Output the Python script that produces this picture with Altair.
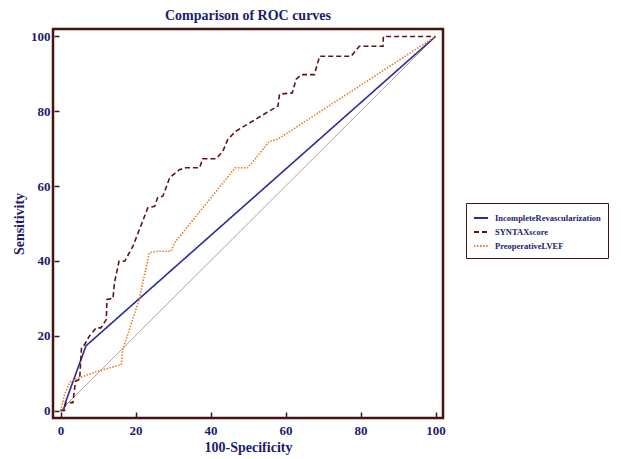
import altair as alt
import pandas as pd

# ---- data ----
series_names = ["IncompleteRevascularization", "SYNTAXscore", "PreoperativeLVEF"]

ir_x = [0, 0.8, 1.4, 6.8, 100]
ir_y = [0, 0, 2.4, 17.3, 100]

syn_x = [0, 1.1, 1.4, 3.3, 4.0, 5.1, 5.6, 6.4, 7.7, 9.5, 10.8, 12.2, 12.4, 14.0, 14.4,
         15.6, 17.1, 19.3, 21.9, 23.3, 25.1, 25.9, 27.3, 29.1, 31.7, 33.5, 37.1, 37.9,
         41.5, 43.3, 44.6, 46.8, 51.3, 54.9, 58.0, 58.4, 61.8, 62.8, 64.2, 67.7, 69.1,
         77.5, 79.7, 86.0, 86.1, 100]
syn_y = [0, 0, 2.1, 2.1, 7.8, 8.3, 16.8, 17.6, 19.9, 22.1, 22.1, 24.3, 29.7, 30.0, 34.2,
         39.9, 39.9, 43.9, 50.6, 54.2, 54.6, 56.9, 57.3, 62.2, 64.4, 64.9, 64.9, 67.3,
         67.3, 69.3, 72.5, 74.7, 77.4, 79.6, 81.4, 84.6, 84.9, 88.5, 89.8, 89.8, 94.7,
         94.7, 97.4, 97.4, 100, 100]

lvef_x = [0, 0.3, 1.1, 2.4, 3.7, 6.4, 10.0, 16.2, 16.6, 21.0, 21.9, 23.7, 26.0, 29.5,
          30.4, 46.6, 49.9, 52.2, 55.7, 57.9, 100]
lvef_y = [0, 1.0, 4.3, 7.4, 8.3, 9.2, 10.5, 12.3, 16.3, 29.7, 34.1, 42.2, 42.6, 42.6,
          44.8, 64.9, 64.9, 67.6, 72.0, 72.5, 100]

diag_x = [0, 100]
diag_y = [0, 100]

tick_values = list(range(0, 101, 5))

# ---- build table ----
rows = []
for name, xs, ys in [(series_names[0], ir_x, ir_y),
                     (series_names[1], syn_x, syn_y),
                     (series_names[2], lvef_x, lvef_y)]:
    for i, (a, b) in enumerate(zip(xs, ys)):
        rows.append({"series": name, "x": a, "y": b, "i": i})
df = pd.DataFrame(rows)
diag = pd.DataFrame({"x": diag_x, "y": diag_y, "i": [0, 1]})

TXT = "#1c1c6e"
FRAME = "#4a1212"
FONT = "Liberation Serif"

xscale = alt.Scale(domain=[-2, 102], nice=False, zero=False)
yscale = alt.Scale(domain=[-2, 102], nice=False, zero=False)

label_expr = "datum.value % 20 == 0 ? datum.label : ''"

xaxis = alt.Axis(values=tick_values, labelExpr=label_expr, title="100-Specificity",
                 offset=-6, tickSize=5, domain=False, grid=False, labelPadding=7,
                 tickColor=FRAME, tickWidth=1.5, labelFont=FONT, labelFontSize=13,
                 labelFontWeight="bold", labelColor=TXT, titleFont=FONT,
                 titleFontSize=14, titleFontWeight="bold", titleColor=TXT,
                 titlePadding=3, labelOverlap=False)
yaxis = alt.Axis(values=tick_values, labelExpr=label_expr, title="Sensitivity",
                 offset=-6, tickSize=5, domain=False, grid=False, labelPadding=4,
                 tickColor=FRAME, tickWidth=1.5, labelFont=FONT, labelFontSize=13,
                 labelFontWeight="bold", labelColor=TXT, titleFont=FONT,
                 titleFontSize=14, titleFontWeight="bold", titleColor=TXT,
                 titlePadding=4, labelOverlap=False)

diag_layer = alt.Chart(diag).mark_line(color="#bf9a9a", strokeWidth=1, clip=True).encode(
    x=alt.X("x:Q", scale=xscale, axis=xaxis),
    y=alt.Y("y:Q", scale=yscale, axis=yaxis),
    order="i:Q",
)

curves = alt.Chart(df).mark_line(strokeWidth=1.6, clip=True).encode(
    x=alt.X("x:Q", scale=xscale),
    y=alt.Y("y:Q", scale=yscale),
    order="i:Q",
    color=alt.Color("series:N",
                    scale=alt.Scale(domain=series_names,
                                    range=["#2b2b9c", "#5e1414", "#f07a22"]),
                    legend=alt.Legend(title=None, orient="none", legendX=413, legendY=174,
                                      symbolType="stroke", symbolSize=196,
                                      symbolStrokeWidth=1.8, labelFont=FONT,
                                      labelFontSize=8.5, labelFontWeight="bold",
                                      labelColor=TXT, strokeColor=FRAME,
                                      padding=7, rowPadding=1, labelOffset=6,
                                      labelLimit=300, fillColor="white")),
    strokeDash=alt.StrokeDash("series:N",
                              scale=alt.Scale(domain=series_names,
                                              range=[[1, 0], [5, 3], [1.5, 1.5]]),
                              legend=None),
)

chart = (diag_layer + curves).properties(
    width=390, height=389,
    title=alt.Title("Comparison of ROC curves", font=FONT, fontSize=14,
                    fontWeight="bold", color=TXT, anchor="middle", offset=6),
    autosize=alt.AutoSizeParams(type="none"),
    padding={"left": 45, "top": 21, "right": 170, "bottom": 42},
).configure_view(stroke=FRAME, strokeWidth=2.5)

chart.save("out.html", embed_options={"renderer": "svg", "actions": False})
